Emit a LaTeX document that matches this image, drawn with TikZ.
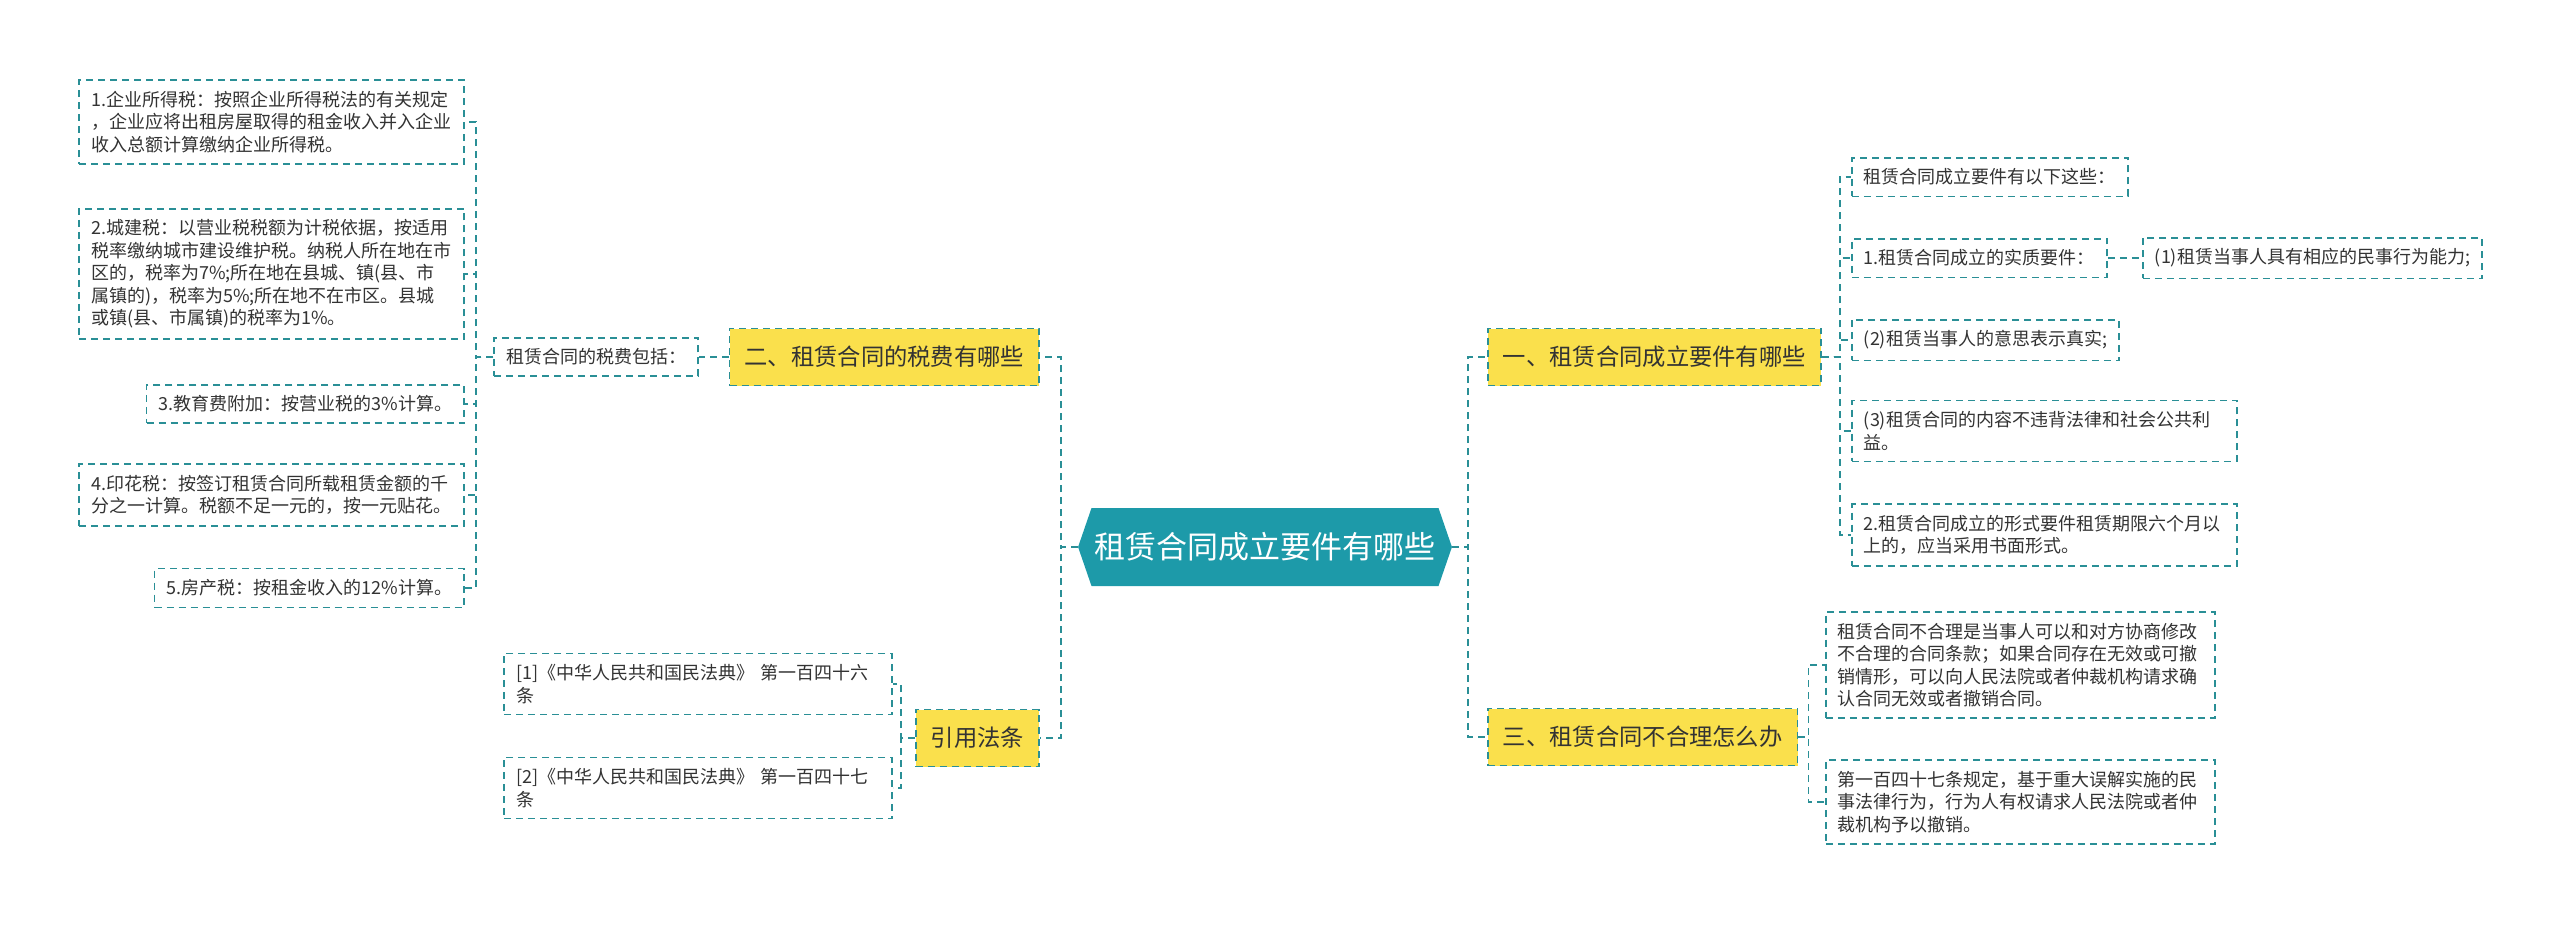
\documentclass[tikz,border=0pt]{standalone}
\usepackage{fontspec}
\setmainfont{Noto Sans CJK SC}
\usetikzlibrary{shapes.symbols}

\definecolor{linkteal}{HTML}{2A8F96}
\definecolor{rootfill}{HTML}{1D9AA9}
\definecolor{branchyellow}{HTML}{FAE04C}
\definecolor{inktext}{HTML}{333333}

\begin{document}
\begin{tikzpicture}[x=1pt,y=-1pt,
    link/.style={draw=linkteal,line width=1.8pt,dash pattern=on 7pt off 5pt},
    rootbox/.style={signal,signal to=east and west,signal pointer angle=142,
        fill=rootfill,text=white,font=\fontsize{31}{36}\selectfont,
        inner xsep=3pt,minimum height=78pt},
    branch/.style={link,fill=branchyellow,text=inktext,
        font=\fontsize{23.3}{28}\selectfont,inner xsep=15pt,minimum height=57pt},
    leaf/.style={link,fill=white,text=inktext,
        font=\fontsize{18}{22.5}\selectfont,inner xsep=12pt,inner ysep=11pt,align=left},
]
\useasboundingbox (0,0) rectangle (2560,930);

% Root
\node[rootbox] (root) at (1265,547) {租赁合同成立要件有哪些};

% Branches
\node[branch,anchor=west] (b1) at (1487,357) {一、租赁合同成立要件有哪些};
\node[branch,anchor=west] (b3) at (1487,737) {三、租赁合同不合理怎么办};
\node[branch,anchor=east] (b2) at (1040,357) {二、租赁合同的税费有哪些};
\node[branch,anchor=east] (b4) at (1040,738) {引用法条};

% Branch one
\node[leaf,anchor=west] (c1) at (1851,177) {租赁合同成立要件有以下这些：};
\node[leaf,anchor=west] (c2) at (1851,258) {1.租赁合同成立的实质要件：};
\node[leaf,anchor=west] (c2a) at (2142,258) {(1)租赁当事人具有相应的民事行为能力;};
\node[leaf,anchor=west] (c3) at (1851,340) {(2)租赁当事人的意思表示真实;};
\node[leaf,anchor=west,text width=361pt] (c4) at (1851,431)
    {(3)租赁合同的内容不违背法律和社会公共利\\益。};
\node[leaf,anchor=west,text width=361pt] (c5) at (1851,535)
    {2.租赁合同成立的形式要件租赁期限六个月以\\上的，应当采用书面形式。};

% Branch three
\node[leaf,anchor=west,text width=365pt] (t1) at (1825,665)
    {租赁合同不合理是当事人可以和对方协商修改\\不合理的合同条款；如果合同存在无效或可撤\\销情形，可以向人民法院或者仲裁机构请求确\\认合同无效或者撤销合同。};
\node[leaf,anchor=west,text width=365pt] (t2) at (1825,802)
    {第一百四十七条规定，基于重大误解实施的民\\事法律行为，行为人有权请求人民法院或者仲\\裁机构予以撤销。};

% Branch two
\node[leaf,anchor=east] (tax) at (699,357) {租赁合同的税费包括：};
\node[leaf,anchor=east,text width=361pt] (l1) at (465,122)
    {1.企业所得税：按照企业所得税法的有关规定\\，企业应将出租房屋取得的租金收入并入企业\\收入总额计算缴纳企业所得税。};
\node[leaf,anchor=east,text width=361pt] (l2) at (465,274)
    {2.城建税：以营业税税额为计税依据，按适用\\税率缴纳城市建设维护税。纳税人所在地在市\\区的，税率为7\%;所在地在县城、镇(县、市\\属镇的)，税率为5\%;所在地不在市区。县城\\或镇(县、市属镇)的税率为1\%。};
\node[leaf,anchor=east] (l3) at (465,404) {3.教育费附加：按营业税的3\%计算。};
\node[leaf,anchor=east,text width=361pt] (l4) at (465,495)
    {4.印花税：按签订租赁合同所载租赁金额的千\\分之一计算。税额不足一元的，按一元贴花。};
\node[leaf,anchor=east] (l5) at (465,588) {5.房产税：按租金收入的12\%计算。};

% Branch four
\node[leaf,anchor=east,text width=364pt] (r1) at (893,684)
    {[1]《中华人民共和国民法典》 第一百四十六\\条};
\node[leaf,anchor=east,text width=364pt] (r2) at (893,788)
    {[2]《中华人民共和国民法典》 第一百四十七\\条};

% Connectors
\foreach \b in {b1,b3}
    \draw[link] (root.east) -- ++(16,0) |- (\b.west);
\foreach \b in {b2,b4}
    \draw[link] (root.west) -- ++(-17,0) |- (\b.east);
\foreach \c in {c1,c2,c3,c4,c5}
    \draw[link] (b1.east) -- ++(18,0) |- (\c.west);
\draw[link] (c2.east) -- (c2a.west);
\foreach \c in {t1,t2}
    \draw[link] (b3.east) -- ++(10,0) |- (\c.west);
\draw[link] (b2.west) -- (tax.east);
\foreach \c in {l1,l2,l3,l4,l5}
    \draw[link] (tax.west) -- ++(-17,0) |- (\c.east);
\foreach \c in {r1,r2}
    \draw[link] (b4.west) -- ++(-14,0) |- (\c.east);

\end{tikzpicture}
\end{document}
